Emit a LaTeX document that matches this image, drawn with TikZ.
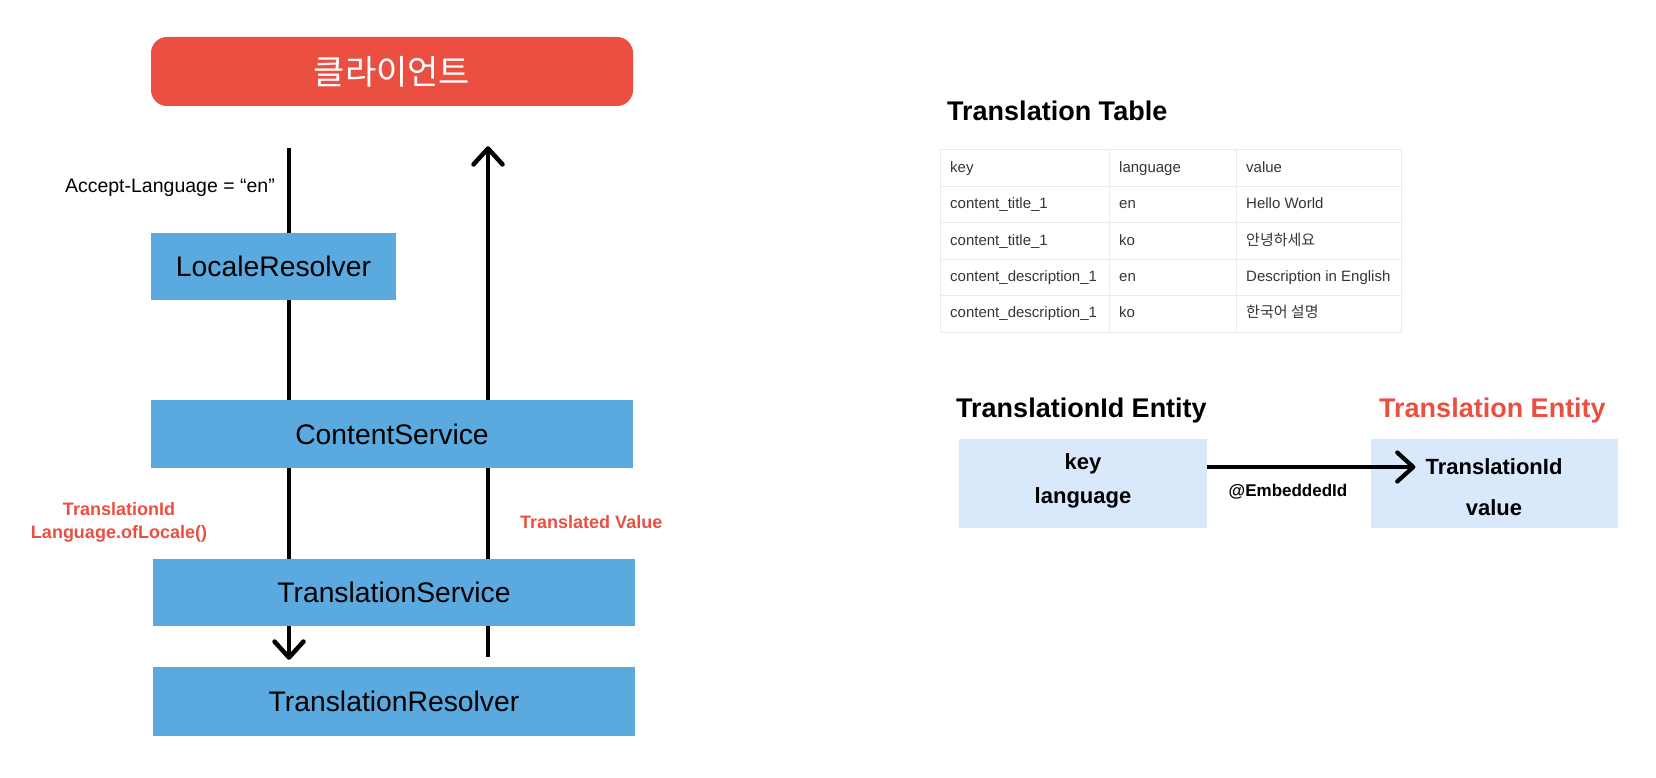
\documentclass[tikz,border=0pt]{standalone}
\usepackage{fontspec}
\setmainfont{Liberation Sans}
\newfontfamily\krfont{Noto Sans CJK KR}
\usetikzlibrary{arrows.meta,positioning,calc}
\definecolor{clientred}{HTML}{EA4F41}
\definecolor{layerblue}{HTML}{5AAAE0}
\definecolor{entityblue}{HTML}{DAE8FC}
\definecolor{gridgray}{HTML}{EBEBEB}
\definecolor{celltext}{HTML}{37352F}

\begin{document}
\begin{tikzpicture}[x=1pt,y=-1pt,
	client/.style={fill=clientred, rounded corners=16pt, minimum width=482pt, minimum height=69pt, text=white, font=\krfont\fontsize{34}{38}\selectfont},
	layer/.style={fill=layerblue, inner sep=0pt, minimum height=67pt, font=\fontsize{28.3}{32}\selectfont},
	flow/.style={line width=4.5pt},
	tip/.style={-{Straight Barb[length=16pt,width=29pt,round]}},
	note/.style={text=clientred, inner sep=0pt, font=\bfseries\fontsize{18}{23}\selectfont},
	heading/.style={anchor=west, inner sep=0pt, font=\bfseries\fontsize{27}{30}\selectfont},
	cell/.style={anchor=west, inner sep=0pt, text=celltext, text height=11pt, text depth=3pt, font=\fontsize{15}{18}\selectfont},
	gridline/.style={draw=gridgray, line width=1pt},
	entity/.style={fill=entityblue, minimum width=248pt, minimum height=89pt, inner sep=0pt},
	field/.style={inner sep=0pt, font=\bfseries\fontsize{22}{26}\selectfont}]
	\useasboundingbox (0,0) rectangle (1656,778);
	
	\node[client] (client) at (392,71.5) {클라이언트};
	\node[layer, minimum width=245pt] (locale) at (273.5,266.5) {LocaleResolver};
	\node[layer, minimum width=482pt, minimum height=68pt] (content) at (392,434) {ContentService};
	\node[layer, minimum width=482pt] (tservice) at (394,592.5) {TranslationService};
	\node[layer, minimum width=482pt, minimum height=69pt] (tresolver) at (394,701.5) {TranslationResolver};
	
	\coordinate (reqtop) at (289,148);
	\draw[flow] (reqtop) -- (reqtop |- locale.north);
	\draw[flow] (locale.south -| reqtop) -- (reqtop |- content.north);
	\draw[flow] (content.south -| reqtop) -- (reqtop |- tservice.north);
	\draw[flow, tip] (tservice.south -| reqtop) -- ($(reqtop |- tresolver.north)+(0,-7)$);
	
	\coordinate (resbottom) at (488,657);
	\draw[flow] (resbottom) -- (resbottom |- tservice.south);
	\draw[flow] (tservice.north -| resbottom) -- (resbottom |- content.south);
	\draw[flow, tip] (content.north -| resbottom) -- ($(resbottom |- client.south)+(0,40)$);
	
	\node[anchor=east, inner sep=0pt, font=\fontsize{19.5}{23}\selectfont] (accept) at (275,188) {Accept-Language = “en”};
	\node[note, align=center] (idnote) at (119,522.5) {TranslationId\\Language.ofLocale()};
	\node[note, anchor=west] (valnote) at (520,522) {Translated Value};
	
	\node[heading] (tabletitle) at (947,111) {Translation Table};
	\newcommand{\rowh}{36.4}
	\draw[gridline] (940,150) rectangle (1401,332);
	\foreach \r in {1,...,4}
		\draw[gridline] (940,150+\rowh*\r) -- (1401,150+\rowh*\r);
	\draw[gridline] (1109,150) -- (1109,332);
	\draw[gridline] (1236,150) -- (1236,332);
	\foreach \r/\k/\l/\v in
	{
		0/key/language/value,
		1/content\_title\_1/en/Hello World,
		2/content\_title\_1/ko/{\krfont 안녕하세요},
		3/content\_description\_1/en/Description in English,
		4/content\_description\_1/ko/{\krfont 한국어 설명}
	}
	{
		\node[cell] (key-\r) at (950,168.2+\rowh*\r) {\k};
		\node[cell] (lang-\r) at (1119,168.2+\rowh*\r) {\l};
		\node[cell] (val-\r) at (1246,168.2+\rowh*\r) {\v};
	}
	
	\node[heading] (idtitle) at (956,411) {TranslationId Entity};
	\node[heading, text=clientred] (enttitle) at (1379,411) {Translation Entity};
	\node[entity] (idbox) at (1083,483.5) {};
	\node[field] (fkey) at (1083,464) {key};
	\node[field] (flang) at (1083,498) {language};
	\node[entity, minimum width=247pt] (entbox) at (1494.5,483.5) {};
	\node[field] (fid) at (1494,467) {TranslationId};
	\node[field] (fval) at (1494,508) {value};
	\draw[line width=4.2pt, tip] (idbox.east |- fid) -- ($(fid.west)+(-10,0)$);
	\node[inner sep=0pt, font=\bfseries\fontsize{17}{20}\selectfont] (embed) at (1288,492) {@EmbeddedId};
\end{tikzpicture}
\end{document}
